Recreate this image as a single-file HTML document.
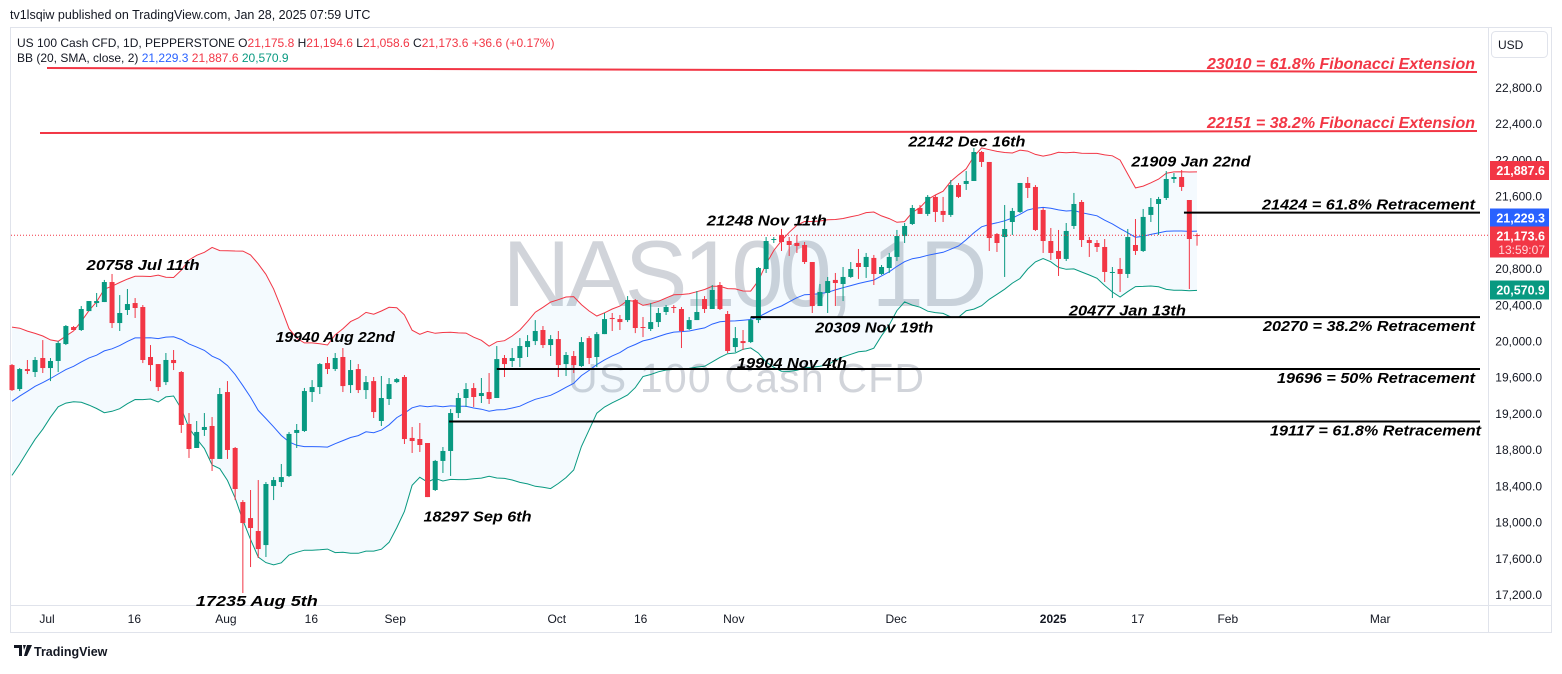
<!DOCTYPE html>
<html><head><meta charset="utf-8"><style>
html,body{margin:0;padding:0;background:#fff;}
body{width:1562px;height:669px;overflow:hidden;font-family:"Liberation Sans",sans-serif;}
svg text{font-family:"Liberation Sans",sans-serif;}
</style></head><body>
<svg id="c" width="1562" height="669" xmlns="http://www.w3.org/2000/svg">
<rect x="0" y="0" width="1562" height="669" fill="#fff"/>
<text x="10" y="19" font-size="12.5" fill="#131722">tv1lsqiw published on TradingView.com, Jan 28, 2025 07:59 UTC</text>
<rect x="10.5" y="27.5" width="1541" height="605" fill="none" stroke="#e0e3eb"/>
<line x1="1488.5" y1="28" x2="1488.5" y2="632" stroke="#e0e3eb"/>
<line x1="11" y1="605.5" x2="1551" y2="605.5" stroke="#e0e3eb"/>
<g id="wm">
<text x="745" y="306" font-size="94" fill="#c9ccd3" fill-opacity="0.85" text-anchor="middle" textLength="485">NAS100, 1D</text>
<text x="746" y="392" font-size="41" fill="#c9ccd3" fill-opacity="0.85" text-anchor="middle" textLength="356">US 100 Cash CFD</text>
</g>
<g id="band"></g><g id="candles"></g><g id="ann"></g><g id="axis"></g>
<g font-size="12">
<text x="17" y="47" fill="#131722">US 100 Cash CFD, 1D, PEPPERSTONE  O<tspan fill="#f23645">21,175.8</tspan>  H<tspan fill="#f23645">21,194.6</tspan>  L<tspan fill="#f23645">21,058.6</tspan>  C<tspan fill="#f23645">21,173.6 +36.6 (+0.17%)</tspan></text>
<text x="17" y="62" fill="#131722">BB (20, SMA, close, 2)  <tspan fill="#2962ff">21,229.3</tspan>  <tspan fill="#f23645">21,887.6</tspan>  <tspan fill="#089981">20,570.9</tspan></text>
</g>
<g><rect x="1491.5" y="31.5" width="56" height="26" rx="4" fill="#fff" stroke="#e0e3eb"/><text x="1498" y="49" font-size="12" fill="#131722">USD</text></g>
<g><path d="M14 645h8v11h-3v-8h-5z M23 645h3l-2 5z M27 645h5l-5 11h-3z" fill="#131722"/><text x="34" y="656" font-size="12.5" fill="#131722" font-weight="bold">TradingView</text></g>
</svg>
<script>
const NS='http://www.w3.org/2000/svg';
const opens=[19740,19475,19696,19663,19818,19707,19785,19972,20160,20127,20336,20425,20436,20657,20204,20348,20425,20381,19829,19751,19552,19796,19663,19089,18824,19023,19067,18703,19442,18824,18227,18050,17907,17752,18404,18448,18514,18990,19012,19442,19497,19762,19696,19829,19519,19696,19464,19563,19122,19365,19552,19608,18935,18923,18879,18360,18681,18791,19210,19376,19486,19398,19442,19376,19818,19785,19818,19939,20005,20127,19961,20027,19751,19840,19729,20038,19829,20082,20260,20248,20237,20458,20160,20138,20215,20326,20381,20359,20138,20237,20469,20359,20624,20304,19939,20005,19994,20237,20801,21121,21177,21110,21088,21066,20878,20392,20536,20680,20635,20713,20867,20823,20923,20746,20812,20934,21165,21298,21475,21409,21597,21442,21398,21728,21740,21773,22093,21983,21187,21154,21320,21431,21751,21707,21453,21110,21000,20912,21276,21541,21121,21088,21044,20757,20801,20746,21066,21000,21398,21519,21585,21795,21817,21563,21175.8];
const highs=[19751,19707,19796,19829,20016,19818,20005,20182,20171,20392,20447,20536,20680,20746,20513,20580,20480,20403,19961,19751,19873,19906,19674,19210,19122,19210,19166,19487,19563,18835,18249,18360,18470,18448,18503,18647,19001,19089,19487,19574,19762,19829,19873,19928,19796,19751,19619,19608,19619,19597,19597,19630,19056,19100,18879,18692,18835,19254,19431,19541,19541,19597,19652,19950,19851,19928,20038,20071,20237,20171,20071,20116,19884,19895,20049,20060,20104,20315,20315,20293,20502,20469,20271,20425,20370,20403,20403,20381,20271,20558,20502,20624,20657,20337,20160,20127,20271,20823,21154,21154,21243,21154,21177,21099,20878,20635,20713,20757,20823,20878,21022,20978,20956,20845,20978,21232,21309,21508,21508,21618,21618,21597,21784,21751,21883,22137,22104,21983,21198,21508,21475,21751,21817,21728,21475,21254,21232,21309,21641,21563,21154,21121,21132,20823,20923,21243,21353,21464,21585,21597,21883,21861,21894,21563,21194.6];
const lows=[19453,19453,19641,19608,19652,19563,19663,19961,20127,20116,20336,20381,20436,20149,20116,20293,20260,19762,19563,19453,19519,19685,18990,18714,18824,18957,18570,18703,18703,18249,17222,17509,17609,17620,18249,18393,18503,18824,19001,19332,19420,19641,19674,19442,19431,19431,19365,19155,19067,19299,19541,18868,18769,18780,18282,18349,18548,18515,19155,19277,19277,19321,19310,19376,19608,19718,19718,19829,19961,19928,19840,19608,19619,19652,19718,19751,19718,20082,20116,20127,20215,20093,20049,20116,20160,20293,20315,19928,20127,20237,20315,20359,20348,19873,19884,19906,19983,20204,20757,21088,21000,20945,20978,20856,20315,20392,20315,20392,20447,20702,20691,20702,20624,20735,20757,20889,21088,21287,21409,21387,21320,21320,21376,21585,21674,21773,21928,21000,20989,20713,21177,21420,21585,21221,20978,20901,20724,20889,21243,21044,20934,20989,20657,20480,20547,20702,20956,20989,21320,21177,21563,21751,21663,20580,21058.6];
const closes=[19464,19696,19674,19796,19707,19785,19983,20171,20127,20359,20447,20447,20657,20204,20315,20414,20370,19796,19740,19497,19796,19762,19078,18813,19001,19056,18703,19420,18802,18371,17995,17940,17708,18426,18470,18503,18979,19023,19453,19497,19751,19696,19818,19508,19685,19464,19552,19221,19376,19530,19585,18923,18901,18857,18282,18681,18791,19210,19376,19475,19387,19431,19365,19806,19751,19818,19950,20005,20116,19961,20027,19740,19851,19740,19994,19818,20082,20248,20248,20215,20458,20149,20149,20215,20315,20381,20370,20116,20237,20326,20359,20569,20359,19895,20038,19983,20237,20812,21110,21132,21099,21066,21055,20878,20392,20547,20668,20646,20713,20801,20823,20934,20746,20823,20934,21165,21276,21475,21409,21597,21431,21398,21728,21597,21773,22093,21983,21143,21088,21243,21442,21751,21696,21232,21110,20978,20912,21221,21519,21121,21088,21044,20768,20768,20746,21154,21000,21376,21486,21574,21795,21817,21707,21132,21173.6];
// closes from the 19 sessions before the first visible bar (for Bollinger warm-up)
const priorCloses=[18560,18610,18700,18880,18890,18990,19190,19400,19380,19560,19850,19720,19730,19620,19480,19600,19800,19700,19680];
const priceTicks=[22800,22400,22000,21600,21200,20800,20400,20000,19600,19200,18800,18400,18000,17600,17200];
const timeLabels=['Jul','16','Aug','16','Sep','Oct','16','Nov','Dec','2025','17','Feb','Mar'];
const timeIdx=[4.55,15.9,27.8,38.9,49.8,70.8,81.7,93.8,114.9,135.3,146.3,158,177.8];
const levelPrices=[21424,20270,19696,19117];
const levelStartIdx=[152.3,96.0,63.0,56.8];
const levelLabels=['21424 = 61.8% Retracement','20270 = 38.2% Retracement','19696 = 50% Retracement','19117 = 61.8% Retracement'];
const extStart=[23021,22303];
const extEnd=[22977,22325];
const extLabels=['23010 = 61.8% Fibonacci Extension','22151 = 38.2% Fibonacci Extension'];
const annTexts=['20758 Jul 11th','19940 Aug 22nd','17235 Aug 5th','18297 Sep 6th','19904 Nov 4th','20309 Nov 19th','21248 Nov 11th','22142 Dec 16th','21909 Jan 22nd','20477 Jan 13th'];
const annIdx=[13,42,30,54,92,104,99,125,151,143];
const annPrice=[20758,19940,17235,18297,19904,20309,21248,22142,21909,20477];

const X0=12, STEP=7.695;
const xs=i=>X0+i*STEP;
const ys=p=>88+(22800-p)*0.09054;
function el(tag,attrs,parent){const e=document.createElementNS(NS,tag);for(const k in attrs)e.setAttribute(k,attrs[k]);parent.appendChild(e);return e;}

// Bollinger bands
const all=priorCloses.concat(closes);
const mid=[],up=[],lo=[];
for(let i=0;i<closes.length;i++){const w=all.slice(i,i+20);const m=w.reduce((a,b)=>a+b,0)/20;const sd=Math.sqrt(w.reduce((a,b)=>a+(b-m)*(b-m),0)/20);mid.push(m);up.push(m+2*sd);lo.push(m-2*sd);}
const band=document.getElementById('band');
const pts=a=>a.map((v,i)=>xs(i).toFixed(1)+','+ys(v).toFixed(1));
const fillPts=pts(up).concat(pts(lo).reverse()).join(' ');
const bf=el('polygon',{points:fillPts,fill:'#2196f3','fill-opacity':'0.05'},band);


const lu=el('polyline',{points:pts(up).join(' '),fill:'none',stroke:'#f23645','stroke-width':1},band);


const lm=el('polyline',{points:pts(mid).join(' '),fill:'none',stroke:'#2962ff','stroke-width':1},band);


const ll=el('polyline',{points:pts(lo).join(' '),fill:'none',stroke:'#089981','stroke-width':1},band);



// current price dotted line
const ann=document.getElementById('ann');
const cp=el('line',{x1:11,x2:1488,y1:ys(closes[closes.length-1]),y2:ys(closes[closes.length-1]),stroke:'#f23645','stroke-width':1,'stroke-dasharray':'1 2'},ann);



// candles
const cg=document.getElementById('candles');
for(let i=0;i<closes.length;i++){
  const col=closes[i]>=opens[i]?'#089981':'#f23645';
  const x=xs(i);
  const g=el('g',{},cg);
  
  
  el('line',{x1:x,x2:x,y1:ys(highs[i]),y2:ys(lows[i]),stroke:col,'stroke-width':1},g);
  const t=ys(Math.max(opens[i],closes[i])),b=ys(Math.min(opens[i],closes[i]));
  el('rect',{x:x-2.5,y:t,width:5,height:Math.max(1,b-t),fill:col},g);
}

// fib extension lines
const extX1=[47,40];
for(let k=0;k<extLabels.length;k++){
  const l=el('line',{x1:extX1[k],x2:1477,y1:ys(extStart[k]),y2:ys(extEnd[k]),stroke:'#f23645','stroke-width':2},ann);
  
  
  const t=el('text',{x:1475,y:ys(extEnd[k])-3,'text-anchor':'end','font-size':16,'font-weight':'bold','font-style':'italic',fill:'#f23645',textLength:268,lengthAdjust:'spacingAndGlyphs'},ann);
  t.textContent=extLabels[k];
  
  
}
// retracement lines
const lvlW=[213,212,198,211];
const lvlBelow=[0,1,1,1];
for(let k=0;k<levelPrices.length;k++){
  const y=ys(levelPrices[k]);
  const l=el('line',{x1:xs(levelStartIdx[k]),x2:1480,y1:y,y2:y,stroke:'#000','stroke-width':2},ann);
  
  
  const t=el('text',{x:k==3?1481:1475,y:lvlBelow[k]?y+14:y-3,'text-anchor':'end','font-size':15,'font-weight':'bold','font-style':'italic',fill:'#000',textLength:lvlW[k],lengthAdjust:'spacingAndGlyphs'},ann);
  t.textContent=levelLabels[k];
  
  
}
// swing annotations
const annW=[113,119,122,108,110,118,120,117,119,117];
const annOff=[[31,-3],[0,-5],[14,14],[50,26],[72,18],[62,19],[-7,-3],[-7,-1],[17,-2],[15,17]];
for(let k=0;k<annTexts.length;k++){
  const t=el('text',{x:xs(annIdx[k])+annOff[k][0],y:ys(annPrice[k])+annOff[k][1],'text-anchor':'middle','font-size':15,'font-weight':'bold','font-style':'italic',fill:'#000',textLength:annW[k],lengthAdjust:'spacingAndGlyphs'},ann);
  t.textContent=annTexts[k];
  
  
}

// axes
const ax=document.getElementById('axis');
priceTicks.forEach(p=>{
  const t=el('text',{x:1542,y:ys(p)+4,'text-anchor':'end','font-size':12,fill:'#131722'},ax);
  t.textContent=p.toLocaleString('en-US')+'.0';
  
  
});
timeLabels.forEach((s,k)=>{
  const t=el('text',{x:xs(timeIdx[k]),y:623,'text-anchor':'middle','font-size':12,fill:'#131722','font-weight':s==='2025'?'bold':'normal'},ax);
  t.textContent=s;
  
  
});
// price tags
const tagShown=['21,887.6','21,229.3','21,173.6','20,570.9'];
const tagCol=['#f23645','#2962ff','#f23645','#089981'];
const tagY=[170.5,218,236,290];
for(let k=0;k<4;k++){
  const h=k==2?31:19;
  const g=el('g',{},ax);
  
  
  el('rect',{x:1490,y:tagY[k]-9.5,width:59,height:h,fill:tagCol[k]},g);
  const t=el('text',{x:1545,y:tagY[k]+4.5,'text-anchor':'end','font-size':12.5,'font-weight':'bold',fill:'#fff'},g);
  t.textContent=tagShown[k];
  if(k==2){const c=el('text',{x:1545,y:tagY[k]+18,'text-anchor':'end','font-size':12,fill:'#ffd6da'},g);c.textContent='13:59:07';}
}
</script>
</body></html>
